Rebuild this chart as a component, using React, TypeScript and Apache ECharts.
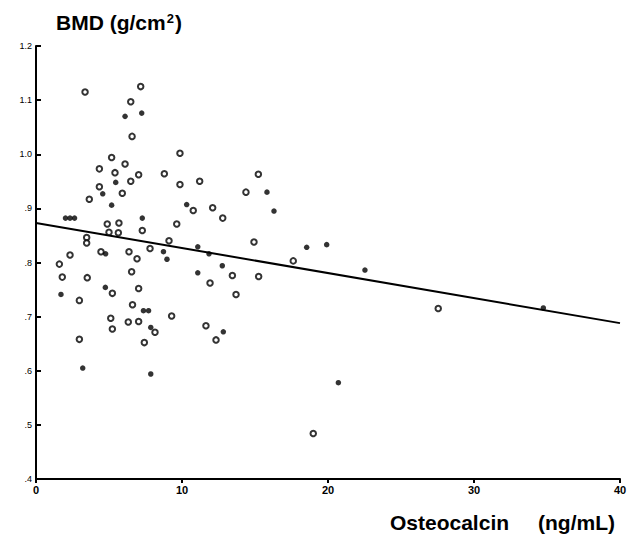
import React, { useEffect, useRef } from "react";
import * as echarts from "echarts";

const xTicks = [0, 10, 20, 30, 40];
const yTicks = [0.4, 0.5, 0.6, 0.7, 0.8, 0.9, 1.0, 1.1, 1.2];

// Open circles: [osteocalcin, BMD]
const openPoints: [number, number][] = [
  [3.36, 1.115], [7.17, 1.125], [6.49, 1.097], [6.58, 1.033], [5.18, 0.994],
  [4.34, 0.973], [6.1, 0.982], [5.41, 0.966], [7.03, 0.962], [6.49, 0.95],
  [4.34, 0.94], [5.91, 0.928], [3.65, 0.917], [9.86, 1.002], [8.79, 0.964],
  [9.86, 0.944], [11.21, 0.95], [4.88, 0.871], [5.68, 0.873], [5.0, 0.856],
  [5.64, 0.855], [3.47, 0.846], [3.47, 0.836], [4.45, 0.82], [6.37, 0.82],
  [2.33, 0.814], [6.92, 0.807], [1.6, 0.797], [6.55, 0.783], [1.8, 0.773],
  [3.51, 0.772], [7.03, 0.752], [5.23, 0.743], [2.97, 0.73], [6.61, 0.722],
  [5.12, 0.697], [6.32, 0.69], [7.03, 0.691], [5.23, 0.677], [2.97, 0.658],
  [10.77, 0.896], [12.1, 0.901], [12.79, 0.882], [9.64, 0.871], [7.28, 0.859],
  [9.11, 0.84], [7.81, 0.826], [13.45, 0.776], [11.92, 0.762], [13.7, 0.741],
  [9.29, 0.701], [8.15, 0.671], [11.64, 0.683], [12.33, 0.657], [7.42, 0.652],
  [15.23, 0.963], [14.38, 0.93], [14.93, 0.838], [17.62, 0.803], [15.25, 0.774],
  [18.99, 0.484], [27.55, 0.715],
];

// Filled dots: [osteocalcin, BMD]
const filledPoints: [number, number][] = [
  [6.1, 1.07], [7.24, 1.076], [4.57, 0.927], [5.18, 0.906], [5.46, 0.948],
  [2.02, 0.882], [2.33, 0.882], [2.64, 0.882], [4.77, 0.816], [4.75, 0.754],
  [1.71, 0.741], [3.2, 0.605], [10.32, 0.907], [7.28, 0.882], [8.73, 0.82],
  [8.97, 0.806], [11.08, 0.829], [11.85, 0.816], [11.08, 0.781], [12.76, 0.794],
  [7.36, 0.711], [7.71, 0.711], [7.86, 0.68], [12.83, 0.672], [7.86, 0.594],
  [15.82, 0.93], [16.3, 0.895], [18.54, 0.828], [19.91, 0.833], [20.71, 0.578],
  [22.53, 0.786], [34.75, 0.716],
];

// Regression line endpoints
const regression: [number, number][] = [
  [0, 0.873],
  [40, 0.688],
];

const yLabelMain = "BMD (g/cm";
const yLabelSup = "2";
const yLabelEnd = ")";
const xLabelName = "Osteocalcin";
const xLabelUnit = "(ng/mL)";

export default function App() {
  const ref = useRef<HTMLDivElement>(null);

  useEffect(() => {
    if (!ref.current) return;
    const chart = echarts.init(ref.current, null, { renderer: "svg" });
    const black = "#000";
    const ff = "'Liberation Sans', Arial, sans-serif";
    chart.setOption({
      animation: false,
      backgroundColor: "#fff",
      grid: { left: 36, right: 10, top: 46, bottom: 60, containLabel: false },
      graphic: [
        {
          type: "text",
          left: 56,
          top: 12,
          style: {
            text: `{m|${yLabelMain}}{s|${yLabelSup}}{m|${yLabelEnd}}`,
            rich: {
              m: { font: `bold 21px ${ff}`, fill: black, verticalAlign: "bottom" },
              s: { font: `bold 13px ${ff}`, fill: black, verticalAlign: "top", padding: [0, 1, 8, 1] },
            },
          },
        },
        {
          type: "text",
          left: 390,
          top: 512,
          style: { text: xLabelName, font: `bold 21px ${ff}`, fill: black },
        },
        {
          type: "text",
          left: 538,
          top: 512,
          style: { text: xLabelUnit, font: `bold 21px ${ff}`, fill: black },
        },
      ],
      xAxis: {
        type: "value",
        min: xTicks[0],
        max: xTicks[xTicks.length - 1],
        interval: 10,
        splitLine: { show: false },
        axisLine: { show: true, onZero: false, lineStyle: { color: black, width: 2 } },
        axisTick: { show: true, inside: false, length: 4, lineStyle: { color: black, width: 2 } },
        axisLabel: {
          color: black,
          fontSize: 11,
          fontWeight: "bold",
          fontFamily: "'Liberation Sans Narrow', 'Liberation Sans', Arial, sans-serif",
          margin: 5,
        },
      },
      yAxis: {
        type: "value",
        min: yTicks[0],
        max: yTicks[yTicks.length - 1],
        interval: 0.1,
        splitLine: { show: false },
        axisLine: { show: true, onZero: false, lineStyle: { color: black, width: 2 } },
        axisTick: { show: true, inside: true, length: 5, lineStyle: { color: black, width: 2 } },
        axisLabel: {
          color: black,
          fontSize: 9,
          fontFamily: ff,
          margin: 4,
          formatter: (v: number) => {
            const s = (Math.round(v * 10) / 10).toFixed(1);
            return v < 1 ? s.replace(/^0/, "") : s;
          },
        },
      },
      series: [
        {
          type: "line",
          data: regression,
          symbol: "none",
          lineStyle: { color: black, width: 2 },
          z: 1,
        },
        {
          type: "scatter",
          data: openPoints,
          symbol: "circle",
          symbolSize: 5.5,
          itemStyle: { color: "#fff", borderColor: black, borderWidth: 2 },
          z: 3,
        },
        {
          type: "scatter",
          data: filledPoints,
          symbol: "circle",
          symbolSize: 5.5,
          itemStyle: { color: black },
          z: 3,
        },
      ],
    });
    return () => chart.dispose();
  }, []);

  return <div ref={ref} style={{ width: 630, height: 539, position: "absolute", left: 0, top: 0 }} />;
}
